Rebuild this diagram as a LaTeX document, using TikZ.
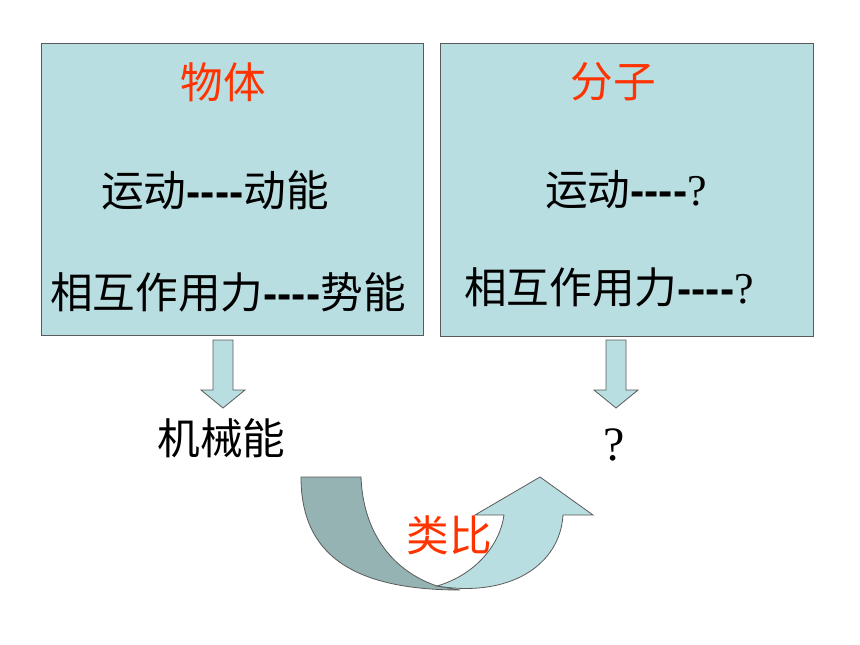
\documentclass[tikz,border=0pt]{standalone}
\usepackage{fontspec}
\usepackage{tikz}
\setmainfont{Noto Sans CJK SC}
\newfontfamily\dashfont{Liberation Sans}
\newfontfamily\qfont{Liberation Serif}

\definecolor{boxfill}{RGB}{185,222,225}
\definecolor{boxline}{RGB}{90,90,90}
\definecolor{bandfill}{RGB}{149,179,179}
\definecolor{titlered}{RGB}{255,51,0}

\newcommand{\dash}{{\dashfont\bfseries ----}}
\newcommand{\qm}[1]{{\qfont\fontsize{#1}{#1}\selectfont ?}}
% block arrow pointing down, top centre at #1
\newcommand{\dnarrow}[1]{\draw[blockarr] (#1) ++(-10,0) -- ++(20,0) -- ++(0,50) -- ++(12,0) -- ++(-22,18) -- ++(-22,-18) -- ++(12,0) -- cycle;}

\begin{document}
\begin{tikzpicture}[x=0.75pt,y=0.75pt,yscale=-1,xscale=1,
  panel/.style={draw=boxline,fill=boxfill,line width=0.75pt},
  blockarr/.style={draw=boxline,fill=boxfill,line width=0.6pt},
  txt/.style={anchor=center,inner sep=0.75pt,font=\fontsize{32}{38}\selectfont},
  title/.style={txt,text=titlered}]
  \useasboundingbox (0,0) rectangle (860,645);

  %Shape: Rectangle [id:left]
  \node [panel,minimum width=286.5pt,minimum height=218.25pt] (objbox) at (232,189.5) {};
  %Shape: Rectangle [id:right]
  \node [panel,minimum width=279.75pt,minimum height=219pt] (molbox) at (626.5,190) {};

  % Text Node
  \node [title] (objtitle) at (223,82) {物体};
  % Text Node
  \node [txt] (objmove) at (215,190) {运动\dash 动能};
  % Text Node
  \node [txt] (objforce) at (228,292) {相互作用力\dash 势能};
  % Text Node
  \node [title] (moltitle) at (613,82) {分子};
  % Text Node
  \node [txt] (molmove) at (626,190) {运动\dash\qm{33}};
  % Text Node
  \node [txt] (molforce) at (609,287) {相互作用力\dash\qm{33}};
  % Text Node
  \node [txt] (mech) at (221.5,438) {机械能};
  % Text Node
  \node [txt] (unknown) at (614,445) {\qm{36}};

  %Shape: Down Arrow
  \coordinate (objarr) at (223,340);
  \dnarrow{objarr}
  %Shape: Down Arrow
  \coordinate (molarr) at (616,340);
  \dnarrow{molarr}

  %Shape: Curved Arrow [left band]
  \draw [draw=boxline,fill=bandfill,line width=0.6pt] (301,477) -- (361,477) .. controls (363,530) and (390,570) .. (437,586) -- (460,590) .. controls (340,590) and (301,545) .. (301,477) -- cycle;
  %Shape: Curved Arrow [right band]
  \draw [draw=boxline,fill=boxfill,line width=0.6pt] (437,586) .. controls (510,598) and (560,565) .. (563,515) -- (593,515) -- (540,477) -- (475,515) -- (504,515) .. controls (500,545) and (475,575) .. (437,586) -- cycle;

  % Text Node
  \node [title] (analogy) at (449,535) {类比};

\end{tikzpicture}
\end{document}
